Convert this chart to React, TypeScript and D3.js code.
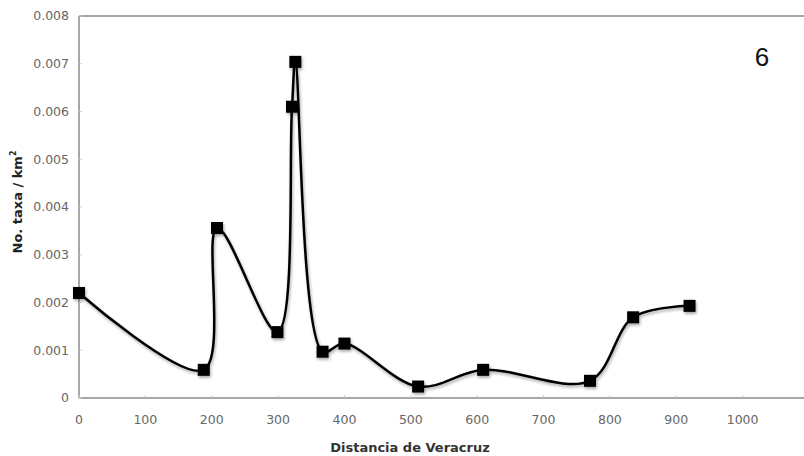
import React from "react";
import * as d3 from "d3";

const width = 804;
const height = 456;

// distance from Veracruz (km) and taxa per km²
const distances = [0, 188, 208, 299, 321, 326, 367, 400, 511, 609, 770, 835, 920];
const taxa = [0.0022, 0.00059, 0.00356, 0.00138, 0.0061, 0.00704, 0.00097, 0.00114, 0.00024, 0.00059, 0.00036, 0.00169, 0.00193];
const xTicks = [0, 100, 200, 300, 400, 500, 600, 700, 800, 900, 1000];
const yTicks = [0, 0.001, 0.002, 0.003, 0.004, 0.005, 0.006, 0.007, 0.008];

const left = 79;
const top = 16;
const bottom = 398;

export default function App() {
  const x = d3.scaleLinear().domain([0, 1100]).range([left, 809]);
  const y = d3.scaleLinear().domain([0, 0.008]).range([bottom, top]);

  const pts: [number, number][] = distances.map((d, i) => [d, taxa[i]]);
  const line = d3
    .line<[number, number]>()
    .x(d => x(d[0]))
    .y(d => y(d[1]))
    .curve(d3.curveCatmullRom.alpha(0.5));

  const tickColor = "#666";
  const axisColor = "#8a8a8a";

  return (
    <svg width={width} height={height} style={{ position: "absolute", left: 0, top: 0, background: "#fff" }}>
      <defs>
        <filter id="shadow" x="-10%" y="-10%" width="120%" height="120%">
          <feGaussianBlur in="SourceAlpha" stdDeviation="1.5" />
          <feOffset dx="1" dy="2" result="b" />
          <feComponentTransfer>
            <feFuncA type="linear" slope="0.35" />
          </feComponentTransfer>
          <feMerge>
            <feMergeNode />
            <feMergeNode in="SourceGraphic" />
          </feMerge>
        </filter>
      </defs>

      {/* axes frame */}
      <line x1={left} x2={width} y1={top} y2={top} stroke={axisColor} strokeWidth={1.5} />
      <line x1={left} x2={left} y1={top} y2={bottom} stroke={axisColor} strokeWidth={1.5} />
      <line x1={left} x2={width} y1={bottom} y2={bottom} stroke={axisColor} strokeWidth={1.5} />

      {yTicks.map(t => (
        <g key={t}>
          <line x1={left} x2={left + 3} y1={y(t)} y2={y(t)} stroke="#ccc" />
          <text
            x={left - 10}
            y={y(t)}
            dy="0.35em"
            textAnchor="end"
            fontFamily="DejaVu Sans"
            fontSize={12.5}
            fill={tickColor}
          >
            {t === 0 ? "0" : t.toFixed(3)}
          </text>
        </g>
      ))}

      {xTicks.map(t => (
        <g key={t}>
          <line x1={x(t)} x2={x(t)} y1={bottom} y2={bottom - 3} stroke="#ccc" />
          <text
            x={x(t)}
            y={bottom + 26}
            textAnchor="middle"
            fontFamily="DejaVu Sans"
            fontSize={12.5}
            fill={tickColor}
          >
            {t}
          </text>
        </g>
      ))}

      <text
        x={410}
        y={452}
        textAnchor="middle"
        fontFamily="DejaVu Sans"
        fontWeight="bold"
        fontSize={13}
        fill="#333"
      >
        Distancia de Veracruz
      </text>
      <text
        transform="translate(22,202) rotate(-90)"
        textAnchor="middle"
        fontFamily="DejaVu Sans"
        fontWeight="bold"
        fontSize={13}
        fill="#222"
      >
        No. taxa / km<tspan dy="-6" fontSize={8}>2</tspan>
      </text>

      <text x={762} y={66} textAnchor="middle" fontFamily="Liberation Sans" fontSize={26} fill="#111">
        6
      </text>

      <g filter="url(#shadow)">
        <path d={line(pts) ?? ""} fill="none" stroke="#000" strokeWidth={2.5} />
        {pts.map((p, i) => (
          <rect key={i} x={x(p[0]) - 6} y={y(p[1]) - 6} width={12} height={12} fill="#000" />
        ))}
      </g>
    </svg>
  );
}
